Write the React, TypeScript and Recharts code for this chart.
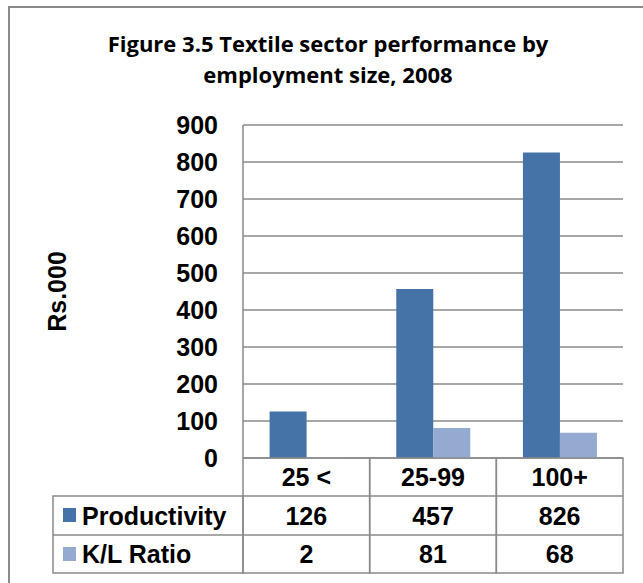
import { BarChart, Bar, XAxis, YAxis, CartesianGrid } from 'recharts'

// chart values
const categories = ['25 <', '25-99', '100+']
const productivity = [126, 457, 826]
const klRatio = [2, 81, 68]
const seriesNames = ['Productivity', 'K/L Ratio']
const yTicks = [0, 100, 200, 300, 400, 500, 600, 700, 800, 900]
const titleLines = ['Figure 3.5 Textile sector performance by', 'employment size, 2008']

const data = categories.map((category, i) => ({
  category,
  productivity: productivity[i],
  kl: klRatio[i],
}))

const W = 643
const H = 583
const PLOT_LEFT = 243
const PLOT_RIGHT = 623
const PLOT_TOP = 125
const PLOT_BOTTOM = 458
const COL_W = (PLOT_RIGHT - PLOT_LEFT) / categories.length
const TABLE_LEFT = 53
const ROWS = [38, 39, 38]

const BLUE = '#4572a7'
const LIGHT = '#95aad1'
const GRID = '#8a8a8a'
const ARIAL = '"Liberation Sans", Arial, sans-serif'

function TableTick(props: any) {
  const { x, y, payload } = props
  const i = categories.indexOf(payload.value)
  const left = x - COL_W / 2
  const r1 = y + ROWS[0]
  const r2 = r1 + ROWS[1]
  const r3 = r2 + ROWS[2]
  const txt = {
    fontFamily: ARIAL,
    fontWeight: 700,
    fontSize: 25,
    fill: '#000',
  }
  return (
    <g>
      <rect x={left} y={y} width={COL_W} height={r3 - y} fill="none" stroke={GRID} strokeWidth={1.5} />
      <line x1={left} x2={left + COL_W} y1={r1} y2={r1} stroke={GRID} strokeWidth={1.5} />
      <line x1={left} x2={left + COL_W} y1={r2} y2={r2} stroke={GRID} strokeWidth={1.5} />
      <text x={x} y={y + ROWS[0] / 2} textAnchor="middle" dominantBaseline="central" {...txt}>
        {payload.value}
      </text>
      <text x={x} y={r1 + ROWS[1] / 2} textAnchor="middle" dominantBaseline="central" {...txt}>
        {productivity[i]}
      </text>
      <text x={x} y={r2 + ROWS[2] / 2} textAnchor="middle" dominantBaseline="central" {...txt}>
        {klRatio[i]}
      </text>
      {i === 0 && (
        <g>
          <rect x={TABLE_LEFT} y={r1} width={left - TABLE_LEFT} height={r3 - r1} fill="none" stroke={GRID} strokeWidth={1.5} />
          <line x1={TABLE_LEFT} x2={left} y1={r2} y2={r2} stroke={GRID} strokeWidth={1.5} />
          <rect x={TABLE_LEFT + 10} y={r1 + 12} width={13} height={14} fill={BLUE} />
          <text x={TABLE_LEFT + 29} y={r1 + ROWS[1] / 2} dominantBaseline="central" {...txt}>
            {seriesNames[0]}
          </text>
          <rect x={TABLE_LEFT + 10} y={r2 + 12} width={13} height={14} fill={LIGHT} />
          <text x={TABLE_LEFT + 29} y={r2 + ROWS[2] / 2} dominantBaseline="central" {...txt}>
            {seriesNames[1]}
          </text>
        </g>
      )}
    </g>
  )
}

function AxisTitle(props: any) {
  const { viewBox } = props
  const cx = viewBox.x + 57
  const cy = viewBox.y + viewBox.height / 2
  return (
    <text
      x={cx}
      y={cy}
      transform={`rotate(-90, ${cx}, ${cy})`}
      textAnchor="middle"
      dominantBaseline="central"
      fontFamily={ARIAL}
      fontWeight={700}
      fontSize={25}
      fill="#000"
    >
      Rs.000
    </text>
  )
}

export default function App() {
  return (
    <div style={{ position: 'absolute', left: 0, top: 0, width: W, height: H, background: '#fff' }}>
      <div
        style={{
          position: 'absolute',
          left: 8,
          top: 6,
          width: W,
          height: H,
          borderTop: `2px solid ${GRID}`,
          borderLeft: `2px solid ${GRID}`,
        }}
      />
      <svg width={W} height={100} style={{ position: 'absolute', left: 0, top: 0 }}>
        {titleLines.map((line, k) => (
          <text
            key={k}
            x={328}
            y={52 + k * 31}
            textAnchor="middle"
            fontFamily='"Open Sans", sans-serif'
            fontWeight={700}
            fontSize={22}
            fill="#000"
          >
            {line}
          </text>
        ))}
      </svg>
      <div style={{ position: 'absolute', left: 0, top: 0 }}>
        <BarChart
          width={W}
          height={H}
          data={data}
          margin={{ top: PLOT_TOP, right: W - PLOT_RIGHT, bottom: 0, left: 0 }}
          barCategoryGap="21%"
          barGap={0}
        >
          <CartesianGrid vertical={false} stroke={GRID} strokeWidth={1.5} />
          <XAxis
            dataKey="category"
            height={H - PLOT_BOTTOM}
            axisLine={false}
            tickLine={false}
            tickSize={0}
            tickMargin={0}
            interval={0}
            tick={<TableTick />}
          />
          <YAxis
            width={PLOT_LEFT}
            domain={[0, 900]}
            ticks={yTicks}
            interval={0}
            tickLine={false}
            tickSize={0}
            tickMargin={25}
            axisLine={{ stroke: GRID, strokeWidth: 1.5 }}
            tick={{ fontFamily: ARIAL, fontWeight: 700, fontSize: 25, fill: '#000' }}
            label={<AxisTitle />}
          />
          <Bar dataKey="productivity" name={seriesNames[0]} fill={BLUE} isAnimationActive={false} />
          <Bar dataKey="kl" name={seriesNames[1]} fill={LIGHT} isAnimationActive={false} />
        </BarChart>
      </div>
    </div>
  )
}
